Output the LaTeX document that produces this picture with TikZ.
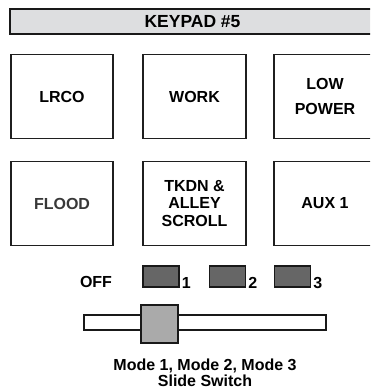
\documentclass[tikz,border=0pt]{standalone}
\usepackage{fontspec}
\setmainfont{Liberation Sans}
\definecolor{hdrgray}{HTML}{DDDEE0}
\definecolor{darkkey}{HTML}{666666}
\definecolor{knobgray}{HTML}{AAAAAA}
\begin{document}
\begin{tikzpicture}[x=1pt,y=-1pt,
  keybox/.style={draw=black!88,line width=1.6pt,fill=white,minimum width=102.5pt,minimum height=84pt,inner sep=0pt,align=center,font=\fontsize{16}{17.5}\selectfont\bfseries},
  hdrbar/.style={draw=black!90,line width=2pt,fill=hdrgray,minimum width=366pt,minimum height=25pt,inner sep=0pt,font=\fontsize{17.5}{20}\selectfont\bfseries},
  modekey/.style={draw=black!90,line width=1.4pt,fill=darkkey,minimum width=36pt,minimum height=21pt,inner sep=0pt},
  lbl/.style={inner sep=0pt,font=\fontsize{16}{16}\selectfont\bfseries},
  track/.style={draw=black!90,line width=1.4pt,fill=white,minimum width=242pt,minimum height=15pt,inner sep=0pt},
  knob/.style={draw=black!90,line width=1.5pt,fill=knobgray,minimum width=37pt,minimum height=38pt,inner sep=0pt}]
\useasboundingbox (0,0) rectangle (370,390);
\clip (0,0) rectangle (370,390);
\fill[white] (0,0) rectangle (370,390);
% header
\node[hdrbar] (hdr) at (192.5,21.5) {KEYPAD \#5};
% keys
\node[keybox] (lrco) at (62,96.5) {LRCO};
\node[keybox] (work) at (194.5,96.5) {WORK};
\node[keybox,font=\fontsize{16}{25}\selectfont\bfseries] (low) at (325,96.5) {LOW\\POWER};
\node[keybox,text=black!78] (flood) at (62,203.5) {FLOOD};
\node[keybox] (tkdn) at (194.5,203.5) {TKDN \&\\ALLEY\\SCROLL};
\node[keybox] (aux) at (325,203.5) {AUX 1};
% mode selector
\node[lbl,anchor=base] (off) at (96,287) {OFF};
\node[modekey] (m1) at (161,276.5) {};
\node[modekey] (m2) at (227.5,276.5) {};
\node[modekey] (m3) at (292.5,276.5) {};
\node[lbl,anchor=base west] (l1) at ([xshift=2pt,yshift=-0.5pt]m1.south east) {1};
\node[lbl,anchor=base west] (l2) at ([xshift=2pt,yshift=-0.5pt]m2.south east) {2};
\node[lbl,anchor=base west] (l3) at ([xshift=2pt,yshift=-0.5pt]m3.south east) {3};
% slide switch
\node[track] (trk) at (205,322.5) {};
\node[knob] (knb) at (159.5,324) {};
\node[lbl,align=center,anchor=base,font=\fontsize{16}{16}\selectfont\bfseries] (cap) at (205,386.5) {Mode 1, Mode 2, Mode 3\\Slide Switch};
\end{tikzpicture}
\end{document}
